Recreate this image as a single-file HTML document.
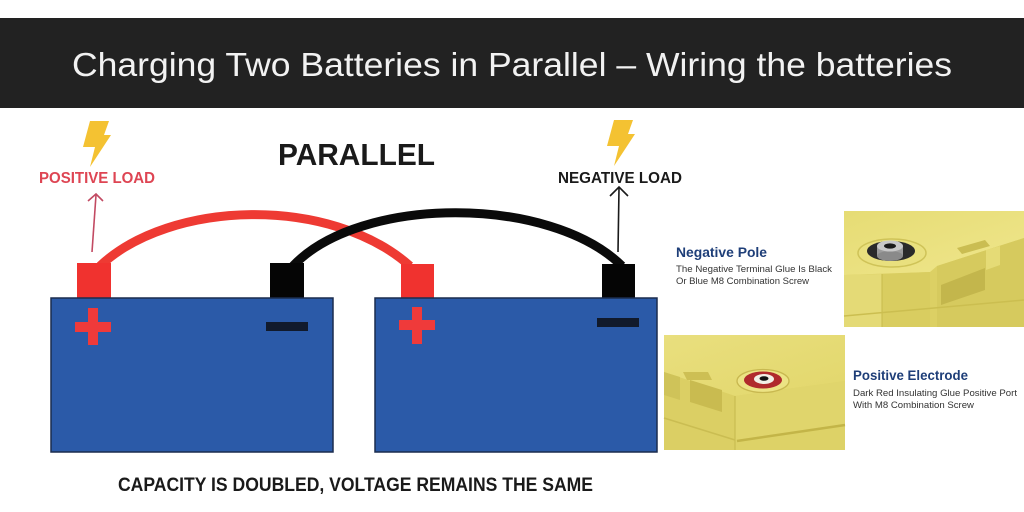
<!DOCTYPE html>
<html><head><meta charset="utf-8"><style>
html,body{margin:0;padding:0;background:#fff;}
svg{display:block;}
text{font-family:"Liberation Sans",Arial,sans-serif;}
</style></head><body>
<svg width="1024" height="512" viewBox="0 0 1024 512" xmlns="http://www.w3.org/2000/svg">
<rect width="1024" height="512" fill="#ffffff"/>
<!-- header -->
<rect x="0" y="18" width="1024" height="90" fill="#222222"/>
<text x="72" y="76" font-size="33.5" fill="#f2f2f2" textLength="880" lengthAdjust="spacingAndGlyphs">Charging Two Batteries in Parallel – Wiring the batteries</text>

<!-- PARALLEL -->
<text x="278" y="165" font-size="30.5" font-weight="bold" fill="#1a1a1a" textLength="157" lengthAdjust="spacingAndGlyphs">PARALLEL</text>

<!-- positive load -->
<polygon points="90,121 109,121 104,135 111,135 90,167 95,147 83,147" fill="#f4c232"/>
<text x="39" y="183" font-size="15.5" font-weight="bold" fill="#de4553" textLength="116" lengthAdjust="spacingAndGlyphs">POSITIVE LOAD</text>
<path d="M92,252 L96,195" stroke="#c24a62" stroke-width="1.6" fill="none"/>
<path d="M88,201 L96,194 L103,201" stroke="#c24a62" stroke-width="1.6" fill="none"/>

<!-- negative load -->
<polygon points="614,120 633,120 628,134 635,134 614,166 619,146 607,146" fill="#f4c232"/>
<text x="558" y="183" font-size="15.5" font-weight="bold" fill="#1a1a1a" textLength="124" lengthAdjust="spacingAndGlyphs">NEGATIVE LOAD</text>
<path d="M618,252 L619,188" stroke="#1a1a1a" stroke-width="1.6" fill="none"/>
<path d="M610,196 L619,187 L628,196" stroke="#1a1a1a" stroke-width="1.6" fill="none"/>

<!-- wires -->
<path d="M100,266 C170,200 330,195 410,266" stroke="#ee3a33" stroke-width="9" fill="none"/>
<path d="M293,266 C360,195 550,195 622,266" stroke="#0a0a0a" stroke-width="9" fill="none"/>

<!-- battery 1 -->
<rect x="77" y="263" width="34" height="36" fill="#f0322f"/>
<rect x="270" y="263" width="34" height="36" fill="#050505"/>
<rect x="51" y="298" width="282" height="154" fill="#2b5aa8" stroke="#1b2c4e" stroke-width="1.5"/>
<rect x="75" y="322" width="36" height="10" fill="#ef3a3a"/>
<rect x="88" y="308" width="10" height="37" fill="#ef3a3a"/>
<rect x="266" y="322" width="42" height="9" fill="#111a2c"/>

<!-- battery 2 -->
<rect x="401" y="264" width="33" height="35" fill="#f0322f"/>
<rect x="602" y="264" width="33" height="35" fill="#050505"/>
<rect x="375" y="298" width="282" height="154" fill="#2b5aa8" stroke="#1b2c4e" stroke-width="1.5"/>
<rect x="399" y="320" width="36" height="10" fill="#ef3a3a"/>
<rect x="412" y="307" width="10" height="37" fill="#ef3a3a"/>
<rect x="597" y="318" width="42" height="9" fill="#111a2c"/>

<!-- bottom caption -->
<text x="118" y="491" font-size="19" font-weight="bold" fill="#1a1a1a" textLength="475" lengthAdjust="spacingAndGlyphs">CAPACITY IS DOUBLED, VOLTAGE REMAINS THE SAME</text>

<!-- right labels -->
<text x="676" y="257" font-size="13.5" font-weight="bold" fill="#1e3e78" textLength="91" lengthAdjust="spacingAndGlyphs">Negative Pole</text>
<text x="676" y="272" font-size="9.5" fill="#333" textLength="156" lengthAdjust="spacingAndGlyphs">The Negative Terminal Glue Is Black</text>
<text x="676" y="284" font-size="9.5" fill="#333" textLength="133" lengthAdjust="spacingAndGlyphs">Or Blue M8 Combination Screw</text>

<text x="853" y="380" font-size="13.5" font-weight="bold" fill="#1e3e78" textLength="115" lengthAdjust="spacingAndGlyphs">Positive Electrode</text>
<text x="853" y="396" font-size="9.5" fill="#333" textLength="164" lengthAdjust="spacingAndGlyphs">Dark Red Insulating Glue Positive Port</text>
<text x="853" y="408" font-size="9.5" fill="#333" textLength="121" lengthAdjust="spacingAndGlyphs">With M8 Combination Screw</text>

<!-- top-right photo -->
<defs>
<linearGradient id="tf" x1="0" y1="0" x2="1" y2="1">
<stop offset="0" stop-color="#e6dc74"/><stop offset="1" stop-color="#efe68c"/>
</linearGradient>
<linearGradient id="tf2" x1="0" y1="0" x2="1" y2="1">
<stop offset="0" stop-color="#e9df7e"/><stop offset="1" stop-color="#e2d76c"/>
</linearGradient>
</defs>
<g>
<rect x="844" y="211" width="180" height="116" fill="#dcd064"/>
<polygon points="844,211 1024,211 1024,238 937,266 930,272 844,275" fill="url(#tf)"/>
<polygon points="844,275 882,274 882,327 844,327" fill="#e4da76"/>
<polygon points="882,274 930,272 930,327 882,327" fill="#d9cd60"/>
<line x1="882" y1="274" x2="882" y2="327" stroke="#c8bb4c" stroke-width="1"/>
<polygon points="937,266 1024,238 1024,327 937,327" fill="#d6ca5e"/>
<polygon points="941,285 985,268 985,290 941,305" fill="#c3b64c"/>
<polygon points="986,250 1000,246 1000,265 986,270" fill="#e5db76"/>
<polygon points="957,248 985,240 990,246 962,254" fill="#cabd52"/>
<line x1="844" y1="316" x2="1024" y2="300" stroke="#cbbe50" stroke-width="1.5"/>
<ellipse cx="892" cy="253" rx="34" ry="14" fill="#e9e07e" stroke="#cfc358" stroke-width="1.5"/>
<ellipse cx="891" cy="251" rx="24" ry="10" fill="#2a2a2a"/>
<rect x="877" y="246" width="26" height="10" fill="#9c9c9c"/>
<ellipse cx="890" cy="256" rx="13" ry="5" fill="#8a8a8a"/>
<ellipse cx="890" cy="246" rx="13" ry="5.5" fill="#c8c8c8"/>
<ellipse cx="890" cy="246" rx="6" ry="2.6" fill="#1a1a1a"/>
</g>

<!-- bottom-left photo -->
<g>
<rect x="664" y="335" width="181" height="115" fill="#ddd267"/>
<polygon points="664,335 845,335 845,381 735,396 664,372" fill="url(#tf2)"/>
<polygon points="664,372 735,396 735,450 664,450" fill="#dbcf64"/>
<polygon points="735,396 845,381 845,424 735,440" fill="#e0d56c"/>
<line x1="735" y1="396" x2="735" y2="450" stroke="#c5b84c" stroke-width="1"/>
<line x1="737" y1="441" x2="845" y2="425" stroke="#c3b548" stroke-width="2.5"/>
<line x1="664" y1="418" x2="735" y2="440" stroke="#cabd52" stroke-width="1.5"/>
<polygon points="664,372 680,377 680,400 664,395" fill="#cfc359"/>
<polygon points="683,372 708,372 712,380 687,380" fill="#cdbf54"/>
<polygon points="690,380 722,390 722,412 690,402" fill="#c9bb50"/>
<ellipse cx="763" cy="381" rx="26" ry="11.5" fill="#ece384" stroke="#c8b850" stroke-width="1.3"/>
<ellipse cx="763" cy="380" rx="19" ry="8.5" fill="#b02a2c"/>
<ellipse cx="764" cy="379" rx="10" ry="5" fill="#f2efe6"/>
<ellipse cx="764" cy="378.5" rx="4.5" ry="2.3" fill="#111"/>
</g>
</svg>
</body></html>
